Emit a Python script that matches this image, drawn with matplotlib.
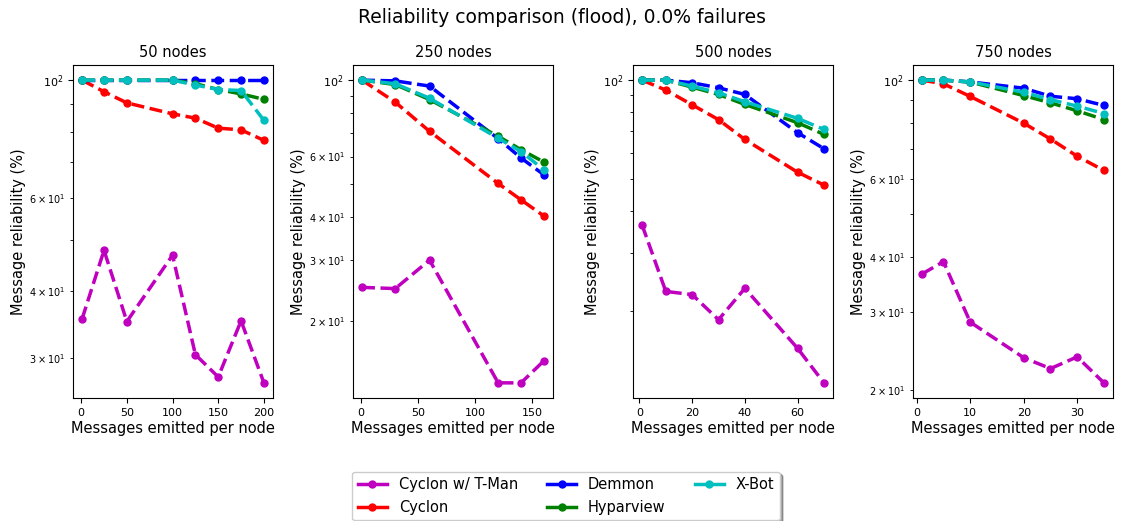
import matplotlib
matplotlib.use("Agg")
import matplotlib.pyplot as plt
from matplotlib.lines import Line2D

suptitle = "Reliability comparison (flood), 0.0% failures"
panel_titles = ["50 nodes", "250 nodes", "500 nodes", "750 nodes"]
series_names = ["Cyclon w/ T-Man", "Cyclon", "Demmon", "Hyparview", "X-Bot"]
series_colors = ["m", "r", "b", "g", "c"]

# 50 nodes
x_50 = [1, 25, 50, 100, 125, 150, 175, 200]
tman_50 = [35.5, 47.8, 35.1, 46.8, 30.4, 27.6, 35.2, 26.9]
cyclon_50 = [100, 95.1, 90.6, 86.4, 84.8, 81.2, 80.6, 77.0]
demmon_50 = [100, 100, 100, 100, 100, 100, 100, 100]
hyparview_50 = [100, 100, 100, 100, 98.5, 96.0, 94.2, 92.0]
xbot_50 = [100, 100, 100, 100, 97.9, 96.0, 95.6, 84.0]

# 250 nodes
x_250 = [1, 30, 60, 120, 140, 160]
tman_250 = [25.0, 24.8, 30.0, 13.2, 13.2, 15.3]
cyclon_250 = [100, 86.3, 71.0, 50.1, 44.9, 40.3]
demmon_250 = [100, 99.5, 96.1, 67.6, 59.4, 53.1]
hyparview_250 = [100, 97.1, 87.8, 68.7, 62.8, 57.8]
xbot_250 = [100, 97.6, 88.6, 67.8, 62.0, 54.9]

# 500 nodes
x_500 = [1, 10, 20, 30, 40, 60, 70]
tman_500 = [36.4, 22.9, 22.4, 18.8, 23.4, 15.4, 12.1]
cyclon_500 = [100, 93.3, 84.2, 75.9, 66.1, 52.6, 48.1]
demmon_500 = [100, 100, 98.2, 94.8, 90.5, 69.3, 62.0]
hyparview_500 = [100, 100, 95.2, 90.5, 84.4, 74.3, 68.5]
xbot_500 = [100, 100, 95.9, 91.6, 86.0, 76.6, 70.9]

# 750 nodes
x_750 = [1, 5, 10, 20, 25, 30, 35]
tman_750 = [36.6, 39.0, 28.5, 23.7, 22.4, 23.8, 20.8]
cyclon_750 = [100, 98.1, 91.9, 80.0, 73.7, 67.4, 62.6]
demmon_750 = [100, 100, 99.1, 95.9, 92.0, 90.8, 87.7]
hyparview_750 = [100, 100, 99.0, 92.3, 88.9, 85.3, 81.5]
xbot_750 = [100, 100, 99.1, 93.9, 90.4, 87.4, 84.1]

panels = [
    (x_50, [tman_50, cyclon_50, demmon_50, hyparview_50, xbot_50]),
    (x_250, [tman_250, cyclon_250, demmon_250, hyparview_250, xbot_250]),
    (x_500, [tman_500, cyclon_500, demmon_500, hyparview_500, xbot_500]),
    (x_750, [tman_750, cyclon_750, demmon_750, hyparview_750, xbot_750]),
]

fig = plt.figure(figsize=(11.23, 5.21), dpi=100)
fig.suptitle(suptitle, fontsize=13.5, y=0.985)

left0 = 73 / 1123
width = 200 / 1123
step = 280 / 1123
bottom = 123 / 521
height = 333 / 521

for i, (xs, ys_list) in enumerate(panels):
    ax = fig.add_axes([left0 + i * step, bottom, width, height])
    for ys, name, col in zip(ys_list, series_names, series_colors):
        ax.plot(xs, ys, linestyle="--", marker="o", color=col, lw=2.5,
                markersize=5, label=name)
    ax.set_yscale("log")
    ax.set_title(panel_titles[i], fontsize=10.5)
    ax.set_xlabel("Messages emitted per node", fontsize=10.5, labelpad=2)
    ax.set_ylabel("Message reliability (%)", fontsize=10.5, labelpad=2)
    ax.tick_params(axis="both", labelsize=8)
    ax.tick_params(axis="y", which="minor", labelsize=7)

handles = [Line2D([0], [0], color=c, lw=2.5, marker="o", markersize=5)
           for c in series_colors]
fig.legend(handles, series_names, loc="center", bbox_to_anchor=(566 / 1123, 25 / 521),
           ncol=3, fontsize=10.5, shadow=True, fancybox=True, framealpha=1,
           edgecolor="0.8", borderaxespad=0.3)

fig.savefig("out.png", dpi=100)
